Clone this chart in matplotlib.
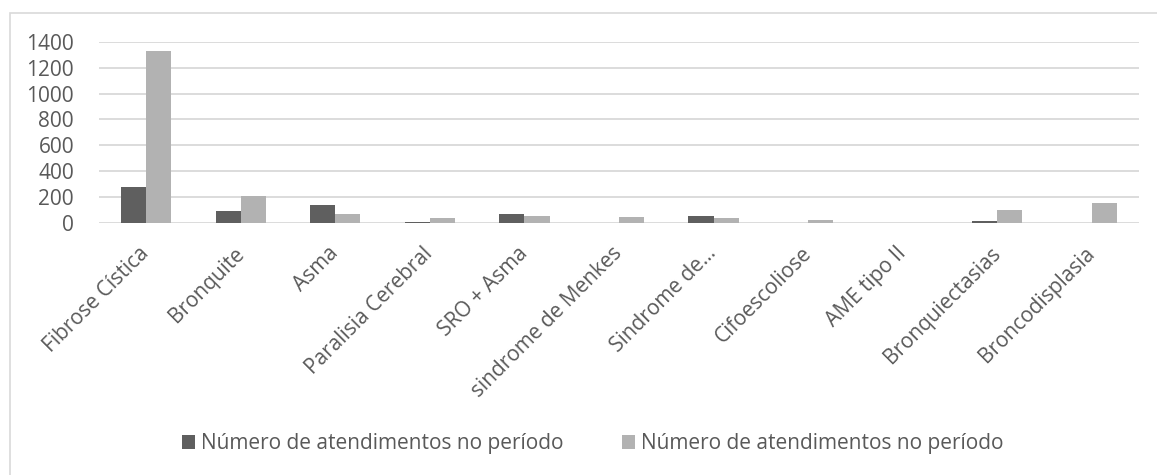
import matplotlib
matplotlib.use("Agg")
import matplotlib.pyplot as plt
from matplotlib.patches import Rectangle
import numpy as np

categories = ["Fibrose Cística", "Bronquite", "Asma", "Paralisia Cerebral", "SRO + Asma",
              "sindrome de Menkes", "Sindrome de...", "Cifoescoliose", "AME tipo II",
              "Bronquiectasias", "Broncodisplasia"]
serie1 = [280, 90, 140, 5, 70, 0, 50, 0, 0, 10, 0]
serie2 = [1330, 205, 70, 40, 55, 45, 40, 18, 0, 95, 155]
legend_labels = ["Número de atendimentos no período", "Número de atendimentos no período"]
yticks = [0, 200, 400, 600, 800, 1000, 1200, 1400]

plt.rcParams['font.family'] = ['Open Sans', 'DejaVu Sans']
W, H = 1157, 475
fig = plt.figure(figsize=(W / 100, H / 100), dpi=100)
ax = fig.add_axes([99 / W, 1 - 222.7 / H, (1139 - 99) / W, (222.7 - 42) / H])

x = np.arange(len(categories))
bw = 0.265
ax.bar(x - bw / 2, serie1, bw, color="#5f5f5f", label=legend_labels[0], zorder=3)
ax.bar(x + bw / 2, serie2, bw, color="#b2b2b2", label=legend_labels[1], zorder=3)

ax.set_xlim(-0.5, len(categories) - 0.5)
ax.set_ylim(0, 1400)
ax.set_yticks(yticks)
ax.yaxis.grid(True, color="#d9d9d9", linewidth=1.3, zorder=0)
for s in ax.spines.values():
    s.set_visible(False)
ax.tick_params(axis='both', length=0, colors="#595959")
ax.tick_params(axis='y', labelsize=15, pad=18)
ax.set_xticks(x)
ax.set_xticklabels(categories, rotation=45, ha='right', va='center', rotation_mode='anchor',
                   fontsize=15, color="#595959")
ax.tick_params(axis='x', pad=20)

leg = fig.legend(loc='center', bbox_to_anchor=(593 / W, 1 - 444 / H), ncol=2, frameon=False,
                 handlelength=0.62, handleheight=0.62, handletextpad=0.3, columnspacing=2.8,
                 fontsize=15)
for t in leg.get_texts():
    t.set_color("#595959")

fig.add_artist(Rectangle((10 / W, -0.1), 2, (H - 13) / H + 0.1, transform=fig.transFigure,
                         fill=False, ec="#d9d9d9", lw=1.2))

fig.savefig("out.png", dpi=100, facecolor="white")
